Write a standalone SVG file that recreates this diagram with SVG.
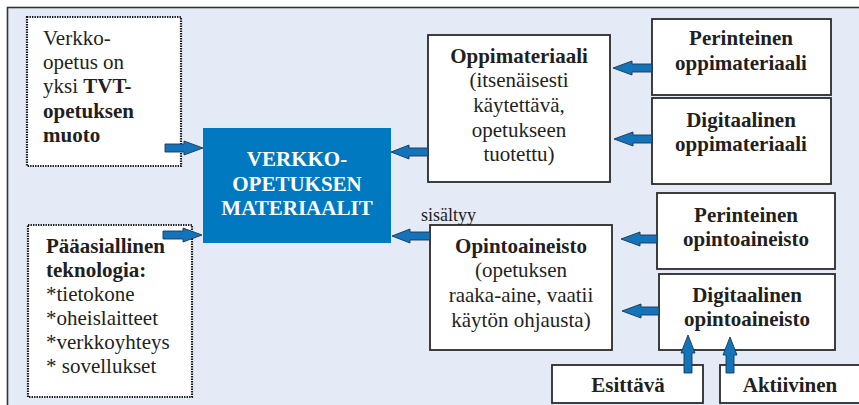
<svg xmlns="http://www.w3.org/2000/svg" width="859" height="405" viewBox="0 0 859 405">
<defs>
<style>
.t{font-family:'Liberation Serif','DejaVu Serif',serif;font-size:21px;fill:#231f20}
.b{font-weight:bold}
.c{text-anchor:middle}
.box{fill:#fff;stroke:#2b2b2b;stroke-width:1.8}
.dot{fill:#fff;stroke:#1a1a1a;stroke-width:2.2;stroke-dasharray:1.4 1.1}
.arr{fill:#1474bb;stroke:#1c3550;stroke-width:0.9;stroke-linejoin:miter}
</style>
</defs>
<rect x="0" y="0" width="859" height="405" fill="#fff"/>
<rect x="7.5" y="7.5" width="900" height="460" fill="#e4eaf6" stroke="#333" stroke-width="1.6"/>

<g id="n-verkko-opetus">
<rect class="dot" x="27" y="17" width="154" height="149"/>
<text class="t" x="43" y="45">Verkko-</text>
<text class="t" x="43" y="69">opetus on</text>
<text class="t" x="43" y="93">yksi <tspan class="b">TVT-</tspan></text>
<text class="t b" x="43" y="118">opetuksen</text>
<text class="t b" x="43" y="142">muoto</text>
</g>

<g id="n-teknologia">
<rect class="dot" x="28" y="225" width="164" height="172"/>
<text class="t b" x="46" y="253">Pääasiallinen</text>
<text class="t b" x="46" y="277">teknologia:</text>
<text class="t" x="46" y="301">*tietokone</text>
<text class="t" x="46" y="325">*oheislaitteet</text>
<text class="t" x="46" y="349">*verkkoyhteys</text>
<text class="t" x="46" y="373">* sovellukset</text>
</g>

<g id="n-materiaalit">
<rect x="203" y="128" width="188" height="115" fill="#0079c1"/>
<text class="t b c" x="297" y="166" style="fill:#fff">VERKKO-</text>
<text class="t b c" x="297" y="191" style="fill:#fff">OPETUKSEN</text>
<text class="t b c" x="297" y="215" style="fill:#fff">MATERIAALIT</text>
</g>

<g id="n-oppimateriaali">
<rect class="box" x="428" y="35" width="182" height="147"/>
<text class="t b c" x="519" y="63">Oppimateriaali</text>
<text class="t c" x="519" y="87">(itsenäisesti</text>
<text class="t c" x="519" y="112">käytettävä,</text>
<text class="t c" x="519" y="137">opetukseen</text>
<text class="t c" x="519" y="161">tuotettu)</text>
</g>

<g id="n-perinteinen-oppimateriaali">
<rect class="box" x="652" y="19" width="179" height="76"/>
<text class="t b c" x="741" y="45">Perinteinen</text>
<text class="t b c" x="741" y="70">oppimateriaali</text>
</g>

<g id="n-digitaalinen-oppimateriaali">
<rect class="box" x="652" y="98" width="179" height="86"/>
<text class="t b c" x="741" y="127">Digitaalinen</text>
<text class="t b c" x="741" y="151">oppimateriaali</text>
</g>

<g id="n-opintoaineisto">
<rect class="box" x="430" y="225" width="182" height="125"/>
<text class="t b c" x="521" y="253">Opintoaineisto</text>
<text class="t c" x="521" y="277">(opetuksen</text>
<text class="t c" x="521" y="302">raaka-aine, vaatii</text>
<text class="t c" x="521" y="327">käytön ohjausta)</text>
</g>

<g id="n-perinteinen-opintoaineisto">
<rect class="box" x="657" y="193" width="178" height="76"/>
<text class="t b c" x="746" y="222">Perinteinen</text>
<text class="t b c" x="746" y="246">opintoaineisto</text>
</g>

<g id="n-digitaalinen-opintoaineisto">
<rect class="box" x="659" y="274" width="176" height="76"/>
<text class="t b c" x="747" y="302">Digitaalinen</text>
<text class="t b c" x="747" y="326">opintoaineisto</text>
</g>

<g id="n-esittava">
<rect class="box" x="552" y="365" width="151" height="38"/>
<text class="t b c" x="628" y="392">Esittävä</text>
</g>

<g id="n-aktiivinen">
<rect class="box" x="720" y="365" width="160" height="38"/>
<text class="t b c" x="790" y="392">Aktiivinen</text>
</g>

<g id="connectors">
<path class="arr" d="M203,148 L184,141 L184,144 L165,144 L165,152 L184,152 L184,155 Z"/>
<path class="arr" d="M202,235 L183,228 L183,231 L163,231 L163,239 L183,239 L183,242 Z"/>
<path class="arr" d="M391,152 L409,145 L409,148 L428,148 L428,156 L409,156 L409,159 Z"/>
<path class="arr" d="M392,236 L410,229 L410,232 L430,232 L430,240 L410,240 L410,243 Z"/>
<path class="arr" d="M613,68 L632,61 L632,64 L652,64 L652,72 L632,72 L632,75 Z"/>
<path class="arr" d="M614,139 L633,132 L633,135 L652,135 L652,143 L633,143 L633,146 Z"/>
<path class="arr" d="M621,239 L640,232 L640,235 L657,235 L657,243 L640,243 L640,246 Z"/>
<path class="arr" d="M622,311 L641,304 L641,307 L659,307 L659,315 L641,315 L641,318 Z"/>
<path class="arr" d="M688,335 L695,353 L692,353 L692,373 L684,373 L684,353 L681,353 Z"/>
<path class="arr" d="M730,337 L737,355 L734,355 L734,373 L726,373 L726,355 L723,355 Z"/>
<text class="t" x="421" y="221" style="font-size:18px">sisältyy</text>
</g>
</svg>
